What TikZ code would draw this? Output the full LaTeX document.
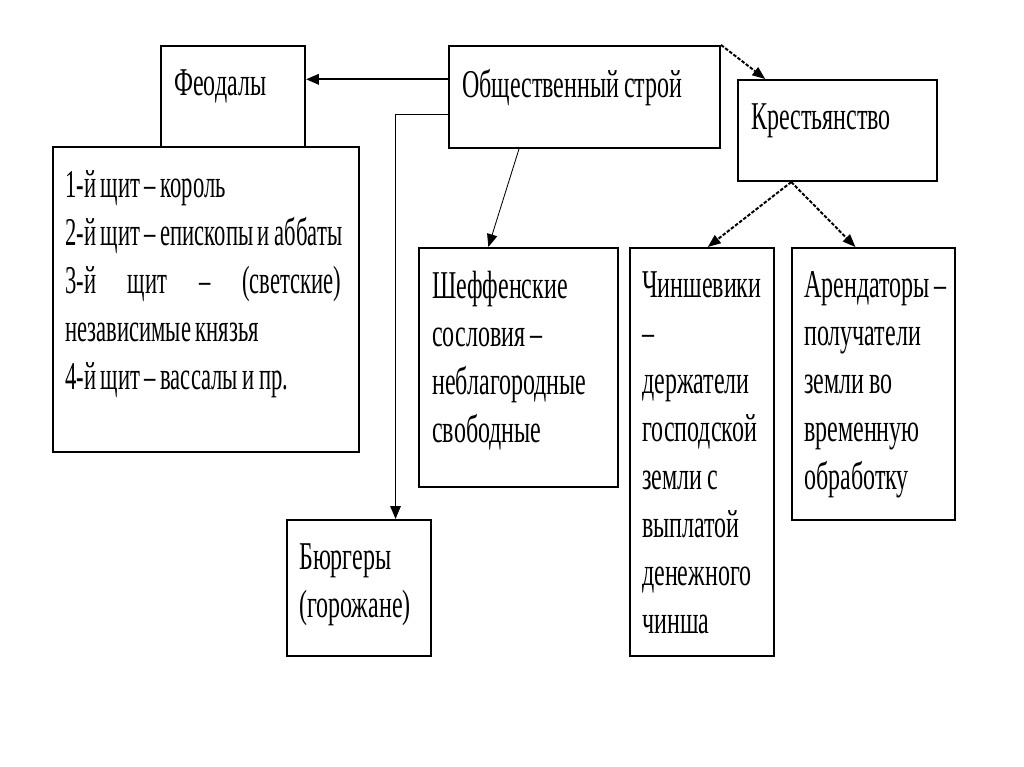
\documentclass[tikz,border=0pt]{standalone}
\usepackage{fontspec}
\setmainfont{Liberation Serif}[FakeStretch=0.61,WordSpace=0.8]
\newfontfamily\shieldfont{Liberation Serif}[FakeStretch=0.575,WordSpace=0.8]
\usetikzlibrary{arrows.meta,calc,fit}

\tikzset{
box/.style={draw, line width=1.5pt, inner sep=0pt},
lbl/.style={anchor=north west, inner sep=0pt, align=left,
    font=\fontsize{28}{34.2}\selectfont},
link/.style={line width=1.5pt, -{Triangle[length=3.2mm,width=2.6mm]}},
thinlink/.style={line width=0.6pt, -{Triangle[length=3.2mm,width=2.6mm]}},
dotlink/.style={line width=1.4pt, dash pattern=on 2.5pt off 1.2pt,
    -{Triangle[length=3.2mm,width=2.6mm,line width=0pt]}}
}

\begin{document}
\begin{tikzpicture}[x=0.025cm,y=-0.025cm]
	\useasboundingbox (0,0) rectangle (1024,767);

	% boxes
	\node[box, fit={(161,46) (305,147)}] (feod) {};
	\node[box, fit={(53,147) (359,452)}] (shields) {};
	\node[box, fit={(449,46) (720,148)}] (society) {};
	\node[box, fit={(738,80) (937,181)}] (peasants) {};
	\node[box, fit={(419,248) (618,487)}] (scheff) {};
	\node[box, fit={(630,248) (774,656)}] (zinsh) {};
	\node[box, fit={(792,248) (955,520)}] (arend) {};
	\node[box, fit={(287,520) (431,656)}] (burg) {};

	% texts
	\node[lbl] at ([shift={(14,24)}]feod.north west) {Феодалы};
	\node[lbl, font=\fontsize{28}{34.2}\shieldfont] at ([shift={(13,24)}]shields.north west)
		{1-й щит – король\\
		 2-й щит – епископы и аббаты\\
		 \makebox[6.9cm]{3-й\hfill щит\hfill –\hfill (светские)}\\
		 независимые князья\\
		 4-й щит – вассалы и пр.};
	\node[lbl] at ([shift={(14,24)}]society.north west) {Общественный строй};
	\node[lbl] at ([shift={(14,24)}]peasants.north west) {Крестьянство};
	\node[lbl] at ([shift={(14,24)}]scheff.north west)
		{Шеффенские\\ сословия –\\ неблагородные\\ свободные};
	\node[lbl] at ([shift={(13,24)}]zinsh.north west)
		{Чиншевики\\ –\\ держатели\\ господской\\ земли с\\ выплатой\\ денежного\\ чинша};
	\node[lbl] at ([shift={(13,24)}]arend.north west)
		{Арендаторы –\\ получатели\\ земли во\\ временную\\ обработку};
	\node[lbl] at ([shift={(13,24)}]burg.north west) {Бюргеры\\ (горожане)};

	% connectors
	\coordinate (s1) at ($(society.north west)!0.33!(society.south west)$);
	\coordinate (s2) at ($(society.north west)!0.67!(society.south west)$);
	\coordinate (s3) at ($(society.south west)!0.26!(society.south east)$);
	\coordinate (b1) at ($(burg.north west)!0.75!(burg.north east)$);
	\coordinate (c1) at ($(scheff.north west)!0.35!(scheff.north east)$);
	\coordinate (p1) at ($(peasants.north west)!0.14!(peasants.north east)$);
	\coordinate (p2) at ($(peasants.south west)!0.27!(peasants.south east)$);
	\coordinate (z1) at ($(zinsh.north west)!0.54!(zinsh.north east)$);
	\coordinate (a1) at ($(arend.north west)!0.39!(arend.north east)$);

	\draw[link] (s1) -- (s1 -| feod.east);
	\draw[link, line width=1pt] (s2) -| (b1);
	\draw[thinlink] (s3) -- (c1);
	\draw[dotlink] (society.north east) -- (p1);
	\draw[dotlink] (p2) -- (z1);
	\draw[dotlink] (p2) -- (a1);

\end{tikzpicture}
\end{document}
